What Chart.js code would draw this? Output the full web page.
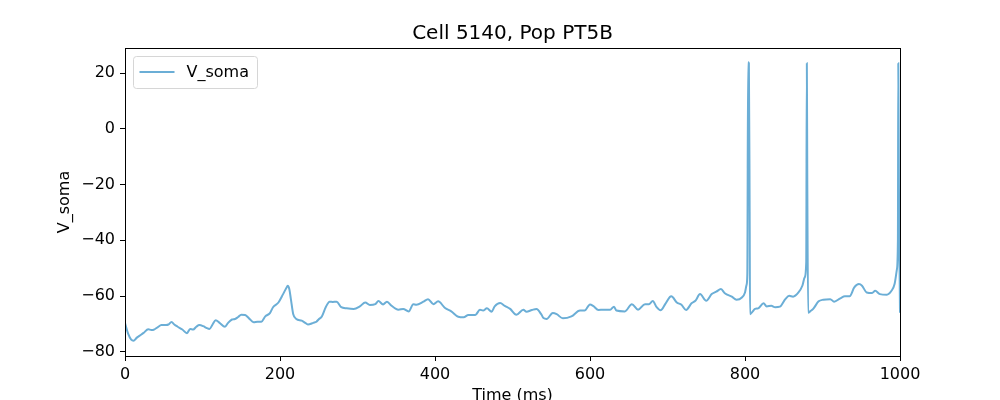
<!DOCTYPE html>
<html>
<head>
<meta charset="utf-8">
<script src="https://cdn.jsdelivr.net/npm/chart.js@4.4.1/dist/chart.umd.min.js"></script>
<style>
html,body{margin:0;padding:0;background:#fff;}
#wrap{width:1000px;height:400px;position:relative;}
</style>
</head>
<body>
<div id="wrap"><canvas id="c" width="1000" height="400"></canvas></div>
<script>
const titleText = "Cell 5140, Pop PT5B";
const xLabel = "Time (ms)";
const yLabel = "V_soma";
const seriesName = "V_soma";
const xTicks = [0, 200, 400, 600, 800, 1000];
const yTicks = [-80, -60, -40, -20, 0, 20];
const times = [0,4,8,11,15,19,24,30,34,37,42,47,53,56,60,64,68,74,80,84,88,92,96,101,105,109,113,117,122,129,133,138,142,146,150,155,160,166,171,176,181,187,191,198,204,208,210,212,214,217,221,228,232,236,243,247,250,254,259,264,268,273,279,286,295,303,310,316,323,327,333,338,344,349,353,359,366,372,376,385,391,398,404,413,421,430,437,443,452,458,462,467,473,477,484,490,497,505,514,518,525,531,537,540,544,552,557,565,576,587,593,600,604,611,617,626,631,634,645,654,662,671,676,681,686,691,697,703,705,712,718,724,731,736,742,750,757,763,769,774,783,789,796,800,802,803,804,805,806,806.5,810,813,817,824,828,834,839,845,852,857,862,869,874,877,879,879.8,880.4,881.5,884,888,895,901,910,915,923,929,935,941,947,951,957,964,968,974,983,989,993,996,997.3,997.8,998.6,1000];
const vSoma = [-69.7,-73.5,-75.6,-76.0,-75.0,-74.2,-73.2,-71.9,-72.2,-72.1,-71.2,-70.4,-70.4,-70.2,-69.3,-70.3,-71.0,-72.0,-73.3,-71.8,-72.0,-71.0,-70.4,-70.8,-71.4,-71.8,-70.2,-68.7,-69.6,-71.0,-69.6,-68.4,-68.2,-67.5,-66.7,-66.8,-68.0,-69.4,-69.2,-69.2,-67.3,-66.1,-64.0,-62.3,-59.3,-57.2,-56.3,-57.5,-61.0,-66.4,-68.2,-68.8,-69.5,-70.2,-69.6,-69.2,-68.3,-67.3,-64.0,-62.0,-62.1,-62.0,-64.0,-64.4,-64.6,-63.7,-62.3,-63.2,-62.9,-61.8,-63.0,-62.0,-63.5,-64.5,-64.9,-64.6,-65.5,-62.9,-63.1,-62.0,-61.1,-62.9,-61.9,-64.3,-65.5,-67.4,-67.6,-66.8,-66.8,-64.9,-65.2,-64.4,-65.6,-63.7,-62.5,-63.5,-64.6,-66.7,-64.9,-65.6,-65.0,-64.6,-66.5,-67.9,-68.2,-66.1,-66.5,-68.0,-67.3,-65.2,-65.2,-63.0,-63.5,-65.0,-64.9,-64.9,-63.8,-65.2,-65.5,-62.9,-64.9,-62.9,-62.9,-61.8,-64.0,-65.1,-62.9,-60.3,-60.1,-62.3,-63.1,-65.0,-62.6,-61.7,-59.3,-61.7,-59.3,-58.4,-57.5,-59.0,-60.2,-61.3,-60.5,-58.7,-56.0,-52.0,23.9,23.5,-30.0,-66.5,-65.5,-64.6,-64.4,-62.6,-63.7,-63.5,-64.0,-63.8,-61.1,-59.9,-60.2,-58.7,-56.3,-53.3,-48.0,23.5,-20.0,-66.0,-65.5,-64.6,-61.9,-61.3,-61.1,-62.0,-60.8,-60.1,-60.1,-56.9,-55.7,-56.3,-58.7,-58.9,-58.1,-59.3,-59.5,-58.1,-55.7,-50.4,-40.0,23.5,-20.0,-66.0];

const lineColor = '#6baed6';
const FONT = 'DejaVu Sans';

const points = times.map((t, i) => ({x: t, y: vSoma[i]}));

const decor = {
  id: 'decor',
  afterDraw(chart) {
    const ctx = chart.ctx;
    const a = chart.chartArea;
    ctx.save();
    // spines
    ctx.strokeStyle = '#000';
    ctx.lineWidth = 1;
    ctx.strokeRect(Math.round(a.left) + 0.5, Math.round(a.top) + 0.5, Math.round(a.right - a.left), Math.round(a.bottom - a.top));
    // axis titles
    ctx.fillStyle = '#000';
    ctx.font = '16px "' + FONT + '"';
    ctx.textAlign = 'center';
    ctx.textBaseline = 'top';
    ctx.fillText(xLabel, (a.left + a.right) / 2, 388);
    ctx.save();
    ctx.translate(65, (a.top + a.bottom) / 2);
    ctx.rotate(-Math.PI / 2);
    ctx.textBaseline = 'middle';
    ctx.fillText(yLabel, 0, 0);
    ctx.restore();
    // legend
    const lx = a.left + 8.5, ly = a.top + 8.5, lw = 124, lh = 32, r = 3;
    ctx.globalAlpha = 0.8;
    ctx.fillStyle = '#fff';
    ctx.beginPath();
    ctx.moveTo(lx + r, ly);
    ctx.arcTo(lx + lw, ly, lx + lw, ly + lh, r);
    ctx.arcTo(lx + lw, ly + lh, lx, ly + lh, r);
    ctx.arcTo(lx, ly + lh, lx, ly, r);
    ctx.arcTo(lx, ly, lx + lw, ly, r);
    ctx.closePath();
    ctx.fill();
    ctx.globalAlpha = 1;
    ctx.strokeStyle = '#d6d6d6';
    ctx.stroke();
    ctx.strokeStyle = lineColor;
    ctx.lineWidth = 2;
    ctx.beginPath();
    ctx.moveTo(lx + 6, ly + 15.5);
    ctx.lineTo(lx + 41, ly + 15.5);
    ctx.stroke();
    ctx.fillStyle = '#000';
    ctx.textAlign = 'left';
    ctx.textBaseline = 'middle';
    ctx.fillText(seriesName, lx + 53, ly + 16);
    ctx.restore();
  }
};

const fmt = v => String(v).replace('-', '\u2212');

new Chart(document.getElementById('c'), {
  type: 'line',
  data: {
    datasets: [{
      label: seriesName,
      data: points,
      borderColor: lineColor,
      borderWidth: 2,
      pointRadius: 0,
      fill: false,
      cubicInterpolationMode: 'monotone'
    }]
  },
  options: {
    responsive: false,
    animation: false,
    devicePixelRatio: 1,
    layout: { padding: { left: 65, right: 100, top: 0, bottom: 0 } },
    plugins: {
      legend: { display: false },
      tooltip: { enabled: false },
      title: {
        display: true,
        fullSize: false,
        text: titleText,
        color: '#000',
        font: { family: FONT, size: 20, weight: 'normal', lineHeight: 1.2 },
        padding: { top: 21.8, bottom: 2.2 }
      }
    },
    scales: {
      x: {
        type: 'linear',
        min: 0, max: 1000,
        afterBuildTicks: ax => { ax.ticks = xTicks.map(v => ({value: v})); },
        afterFit: s => { s.height = 44; },
        grid: { drawOnChartArea: false, drawTicks: true, tickLength: 5, tickColor: '#000', tickWidth: 1 },
        border: { display: true, color: '#000', width: 1 },
        ticks: { color: '#000', padding: 4, maxRotation: 0, autoSkip: false, font: { family: FONT, size: 16 }, callback: v => fmt(v) }
      },
      y: {
        type: 'linear',
        min: -81.5, max: 29.0,
        afterBuildTicks: ax => { ax.ticks = yTicks.map(v => ({value: v})); },
        afterFit: s => { s.width = 60; },
        grid: { drawOnChartArea: false, drawTicks: true, tickLength: 5, tickColor: '#000', tickWidth: 1 },
        border: { display: true, color: '#000', width: 1 },
        ticks: { color: '#000', padding: 5, autoSkip: false, font: { family: FONT, size: 16 }, callback: v => fmt(v) }
      }
    }
  },
  plugins: [decor]
});
</script>
</body>
</html>
